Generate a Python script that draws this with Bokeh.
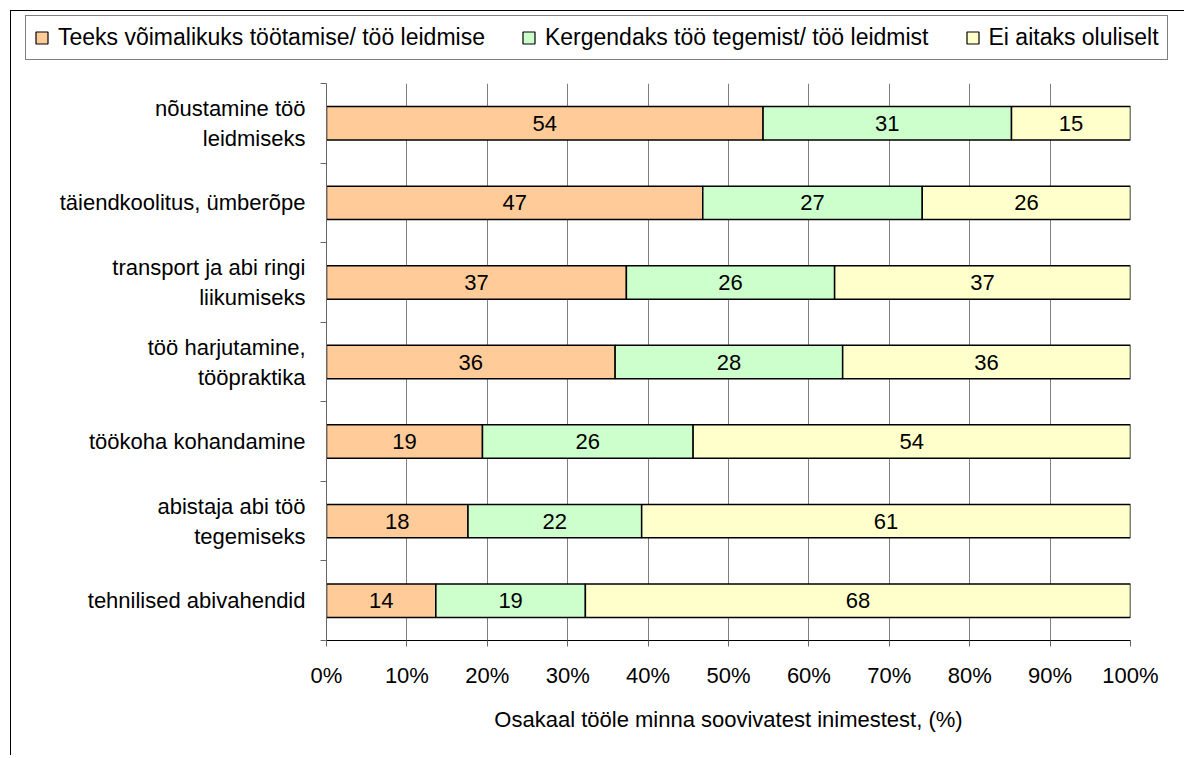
import numpy as np
from bokeh.plotting import figure
from bokeh.layouts import column
from bokeh.models import (ColumnDataSource, Range1d, FixedTicker, PrintfTickFormatter,
                          LabelSet, Legend, LegendItem)
from bokeh.core.properties import value
from bokeh.embed import file_html
from bokeh.resources import INLINE

categories = [
    "nõustamine töö\nleidmiseks",
    "täiendkoolitus, ümberõpe",
    "transport ja abi ringi\nliikumiseks",
    "töö harjutamine,\ntööpraktika",
    "töökoha kohandamine",
    "abistaja abi töö\ntegemiseks",
    "tehnilised abivahendid",
]
teeks = [54.3, 46.8, 37.3, 35.9, 19.4, 17.6, 13.6]
kergendaks = [30.9, 27.3, 25.9, 28.3, 26.2, 21.6, 18.6]
ei_aitaks = [14.8, 25.9, 36.8, 35.8, 54.4, 60.8, 67.8]
series_names = ["Teeks võimalikuks töötamise/ töö leidmise",
                "Kergendaks töö tegemist/ töö leidmist",
                "Ei aitaks oluliselt"]
colors = ["#FFCC99", "#CCFFCC", "#FFFFCC"]
x_ticks = [0, 10, 20, 30, 40, 50, 60, 70, 80, 90, 100]

n = len(categories)
ypos = [n - 0.5 - i for i in range(n)]
src = ColumnDataSource(dict(y=ypos, a=teeks, b=kergendaks, c=ei_aitaks))

FONT = "Liberation Sans"
FS = "22px"
W = 1173

# ---- legend strip (its own small plot, so the legend sits left of the bar frame) ----
lf = figure(width=W, height=55, output_backend="svg", toolbar_location=None,
            x_range=Range1d(0, 1), y_range=Range1d(0, 1),
            x_axis_location=None, y_axis_location=None,
            min_border_left=10, min_border_right=0, min_border_top=0, min_border_bottom=0)
lf.frame_align = False
lf.outline_line_color = None
lf.grid.visible = False
proxies = lf.hbar_stack(["a", "b", "c"], y="y", height=0.42, color=colors, line_color="black",
                        line_width=1.2, source=src, visible=False)
items = [LegendItem(label=nm, renderers=[r]) for nm, r in zip(series_names, proxies)]
lg = Legend(items=items, orientation="horizontal", location="top_left",
            border_line_color="black", border_line_width=1,
            label_text_font=FONT, label_text_font_size="23px", label_text_color="black",
            glyph_width=15, glyph_height=15, label_standoff=9, spacing=36,
            padding=8, margin=4, background_fill_alpha=1, inactive_fill_alpha=0)
lf.add_layout(lg)

# ---- main chart ----
p = figure(width=W, height=689, output_backend="svg", toolbar_location=None,
           x_range=Range1d(0, 100), y_range=Range1d(0, n),
           min_border_left=315, min_border_right=54, min_border_top=17, min_border_bottom=115)
p.frame_align = False
p.outline_line_color = None
p.background_fill_color = "white"

p.hbar_stack(["a", "b", "c"], y="y", height=0.42, color=colors, line_color="black",
             line_width=1.5, source=src)

vals = np.array([teeks, kergendaks, ei_aitaks])
starts = np.vstack([np.zeros(n), np.cumsum(vals, axis=0)[:-1]])
lx, ly, lt = [], [], []
for k in range(3):
    for i in range(n):
        lx.append(starts[k, i] + vals[k, i] / 2)
        ly.append(ypos[i])
        lt.append(str(int(round(vals[k, i]))))
lsrc = ColumnDataSource(dict(x=lx, y=ly, t=lt))
p.add_layout(LabelSet(x="x", y="y", text="t", source=lsrc, text_align="center",
                      text_baseline="middle", text_font=value(FONT), text_font_size=value(FS),
                      text_color="black"))

p.xaxis.ticker = FixedTicker(ticks=x_ticks)
p.xaxis.formatter = PrintfTickFormatter(format="%d%%")
p.xaxis.axis_label = "Osakaal tööle minna soovivatest inimestest, (%)"
p.xaxis.axis_label_text_font = FONT
p.xaxis.axis_label_text_font_size = FS
p.xaxis.axis_label_text_font_style = "normal"
p.xaxis.axis_label_text_color = "black"
p.xaxis.axis_label_standoff = 16
p.xaxis.major_label_text_font = FONT
p.xaxis.major_label_text_font_size = FS
p.xaxis.major_label_text_color = "black"
p.xaxis.major_label_standoff = 16
p.xaxis.major_tick_out = 6
p.xaxis.major_tick_in = 0
p.xaxis.minor_tick_line_color = None
p.xaxis.axis_line_color = "black"
p.xaxis.major_tick_line_color = "#666666"

p.yaxis.ticker = FixedTicker(ticks=ypos, minor_ticks=list(range(n + 1)))
p.yaxis.major_label_overrides = {ypos[i]: categories[i] for i in range(n)}
p.yaxis.major_label_text_font = FONT
p.yaxis.major_label_text_font_size = FS
p.yaxis.major_label_text_color = "black"
p.yaxis.major_tick_out = 0
p.yaxis.major_tick_in = 0
p.yaxis.minor_tick_out = 6
p.yaxis.minor_tick_in = 0
p.yaxis.minor_tick_line_color = "#666666"
p.yaxis.axis_line_color = "#666666"
p.yaxis.major_label_standoff = 15

p.xgrid.ticker = FixedTicker(ticks=x_ticks)
p.xgrid.grid_line_color = "#808080"
p.ygrid.grid_line_color = None

layout = column(lf, p, spacing=0)
layout.styles = {"border-left": "1px solid #000", "border-top": "1px solid #000",
                 "margin-left": "10px", "margin-top": "10px"}

open("out.html", "w").write(file_html(layout, INLINE))
